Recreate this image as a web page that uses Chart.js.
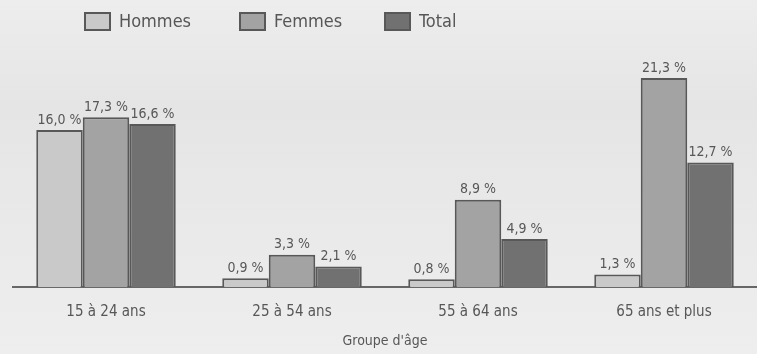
<!DOCTYPE html>
<html><head><meta charset="utf-8">
<script src="https://cdn.jsdelivr.net/npm/chart.js@4/dist/chart.umd.min.js"></script>
<style>html,body{margin:0;padding:0;background:#e9e9e9}#w{width:757px;height:354px}</style>
</head><body><div id="w"><canvas id="c"></canvas></div>
<script>
const categories = ["15 à 24 ans", "25 à 54 ans", "55 à 64 ans", "65 ans et plus"];
const hommes = [16.0, 0.9, 0.8, 1.3];
const femmes = [17.3, 3.3, 8.9, 21.3];
const total = [16.6, 2.1, 4.9, 12.7];
const seriesNames = ["Hommes", "Femmes", "Total"];
const axisTitle = "Groupe d'âge";

const FONT = "'Liberation Sans Narrow','DejaVu Sans Condensed','Roboto',sans-serif";
const TXT = '#575757';

const bgPlugin = {
  id: 'bg',
  beforeDraw(chart) {
    const {ctx, width, height} = chart;
    const g = ctx.createLinearGradient(0, 0, 0, height);
    g.addColorStop(0, '#ededed');
    g.addColorStop(0.3, '#e5e5e5');
    g.addColorStop(1, '#eeeeee');
    ctx.save(); ctx.fillStyle = g; ctx.fillRect(0, 0, width, height); ctx.restore();
  }
};

const valueLabels = {
  id: 'valueLabels',
  afterDatasetsDraw(chart) {
    const ctx = chart.ctx;
    ctx.save();
    ctx.font = '14px ' + FONT;
    ctx.fillStyle = TXT;
    ctx.textAlign = 'center';
    ctx.textBaseline = 'bottom';
    chart.data.datasets.forEach((ds, di) => {
      chart.getDatasetMeta(di).data.forEach((bar, i) => {
        const t = ds.data[i].toFixed(1).replace('.', ',') + ' %';
        ctx.fillText(t, bar.x, bar.y - 3);
      });
    });
    ctx.restore();
  }
};

const customLegend = {
  id: 'customLegend',
  afterDraw(chart) {
    const ctx = chart.ctx;
    const xs = [85, 240, 385];
    ctx.save();
    ctx.font = '18px ' + FONT;
    ctx.textBaseline = 'middle';
    chart.data.datasets.forEach((ds, i) => {
      const x = xs[i], y = 13;
      ctx.fillStyle = ds.backgroundColor;
      ctx.fillRect(x, y, 25, 17);
      ctx.strokeStyle = ds.borderColor;
      ctx.lineWidth = 2;
      ctx.strokeRect(x, y, 25, 17);
      ctx.fillStyle = TXT;
      ctx.fillText(ds.label, x + 34, y + 9);
    });
    ctx.restore();
  }
};

new Chart(document.getElementById('c'), {
  type: 'bar',
  data: {
    labels: categories,
    datasets: [
      {label: seriesNames[0], data: hommes, backgroundColor: '#c9c9c9', borderColor: '#585858', borderWidth: 2},
      {label: seriesNames[1], data: femmes, backgroundColor: '#a3a3a3', borderColor: '#585858', borderWidth: 2},
      {label: seriesNames[2], data: total, backgroundColor: '#717171', borderColor: '#585858', borderWidth: 2}
    ]
  },
  options: {
    responsive: true,
    maintainAspectRatio: false,
    animation: false,
    layout: {padding: {left: 13, right: 0, top: 71, bottom: 4}},
    datasets: {bar: {categoryPercentage: 0.75, barPercentage: 1.0}},
    plugins: {legend: {display: false}, tooltip: {enabled: false}},
    scales: {
      x: {
        grid: {display: false, drawTicks: false},
        border: {display: true, color: '#676767', width: 2},
        ticks: {color: TXT, font: {family: FONT, size: 15}, padding: 16},
        title: {display: true, text: axisTitle, color: TXT, font: {family: FONT, size: 14}, padding: {top: -4, bottom: 0}}
      },
      y: {display: false, min: 0, max: 22}
    }
  },
  plugins: [bgPlugin, valueLabels, customLegend]
});
</script></body></html>
